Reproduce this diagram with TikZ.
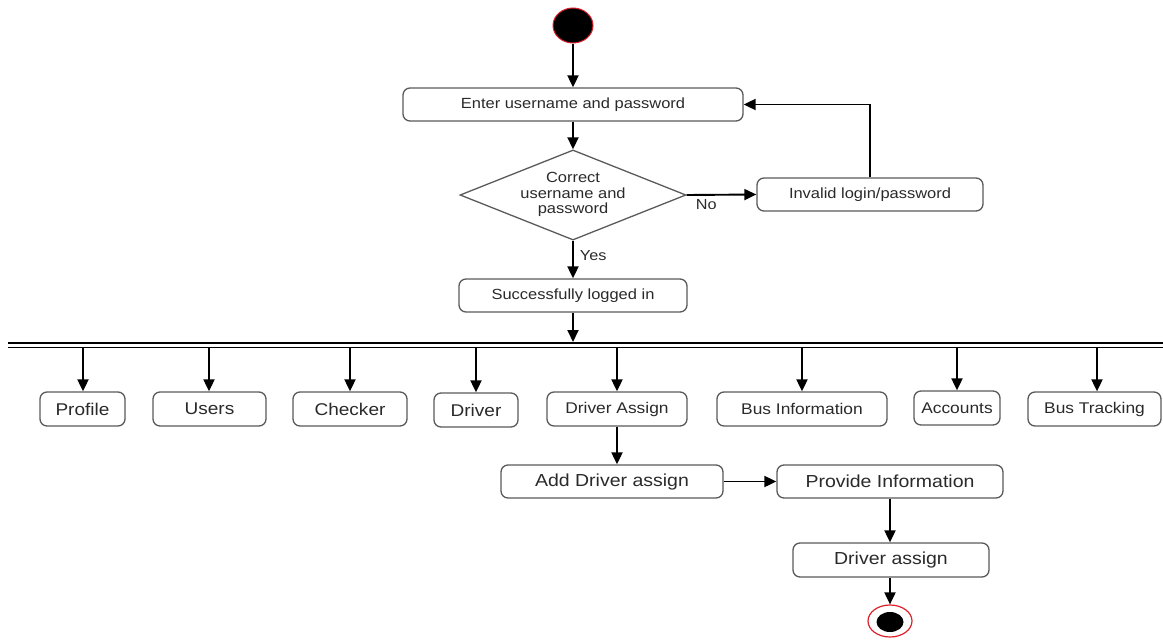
\documentclass[tikz,border=0pt]{standalone}
\usepackage{fontspec}
\setmainfont{Liberation Sans}
\usetikzlibrary{shapes.geometric,arrows.meta}
\newcommand{\sx}[1]{\scalebox{1.12}[1]{#1}}
\definecolor{txt}{HTML}{2A2A2A}
\definecolor{bord}{HTML}{5A5A5A}
\definecolor{startred}{HTML}{E0202A}
\tikzset{
  box/.style={draw=bord, line width=1.3pt, rounded corners=7pt, inner sep=0pt, text=txt, fill=white},
  topf/.style={font=\fontsize{14.7}{17}\selectfont},
  rowA/.style={font=\fontsize{17}{20}\selectfont},
  rowB/.style={font=\fontsize{15.5}{18}\selectfont},
  lowf/.style={font=\fontsize{17.4}{20}\selectfont},
  arr/.style={draw=black, line width=1.9pt, -{Triangle[length=12pt,width=11pt]}},
  lbl/.style={text=txt, font=\fontsize{14.5}{17}\selectfont, inner sep=0pt}
}
\begin{document}
\begin{tikzpicture}[x=1pt,y=-1pt]
\useasboundingbox (0,0) rectangle (1163,640);
% start
\node[ellipse, draw=startred, fill=black, line width=1pt, minimum width=40pt, minimum height=35pt, inner sep=0pt] (start) at (573,25.5) {};
% top boxes
\node[box, topf, minimum width=340pt, minimum height=33pt] (enter) at (573,104.5) {\sx{Enter username and password}};
\node[diamond, draw=bord, line width=1.3pt, text=txt, topf, minimum width=226pt, minimum height=88pt, inner sep=0pt, aspect=2.5] (dia) at (573,195)
  {\sx{\begin{tabular}{@{}c@{}}Correct\\[-1.5pt]username and\\[-1.5pt]password\end{tabular}}};
\node[box, topf, minimum width=226pt, minimum height=33pt] (invalid) at (870,194.5) {\sx{Invalid login/password}};
\node[box, topf, minimum width=228pt, minimum height=33pt] (success) at (573,295.5) {\sx{Successfully logged in}};
% fork bar
\coordinate (barL) at (8,345);
\coordinate (barR) at (1163,345);
\draw[line width=1.8pt] (8,343) -- (1163,343);
\draw[line width=1.8pt] (8,347.5) -- (1163,347.5);
% row boxes
\node[box, rowA, minimum width=85pt, minimum height=34pt] (profile) at (82.5,409) {\sx{Profile}};
\node[box, rowA, minimum width=113pt, minimum height=34pt] (users) at (209.5,409) {\sx{Users}};
\node[box, rowA, minimum width=114pt, minimum height=34pt] (checker) at (350,409) {\sx{Checker}};
\node[box, rowA, minimum width=84pt, minimum height=34pt] (driver) at (476,410) {\sx{Driver}};
\node[box, rowB, minimum width=140pt, minimum height=34pt] (dassignU) at (617,409) {\sx{Driver Assign}};
\node[box, rowB, minimum width=170pt, minimum height=34pt] (businfo) at (802,409) {\sx{Bus Information}};
\node[box, rowB, minimum width=86pt, minimum height=34pt] (accounts) at (957,408) {\sx{Accounts}};
\node[box, rowB, minimum width=133pt, minimum height=34pt] (bustrack) at (1094.5,409) {\sx{Bus Tracking}};
% lower boxes
\node[box, lowf, minimum width=222pt, minimum height=33pt] (add) at (612,481.5) {\sx{Add Driver assign}};
\node[box, lowf, minimum width=226pt, minimum height=33pt] (provide) at (890,481.5) {\sx{Provide Information}};
\node[box, lowf, minimum width=196pt, minimum height=34pt] (dassign) at (891,560) {\sx{Driver assign}};
% end
\node[ellipse, draw=startred, fill=white, line width=1.2pt, minimum width=44pt, minimum height=32pt, inner sep=0pt] (end) at (890,621) {};
\node[ellipse, fill=black, minimum width=27pt, minimum height=20pt, inner sep=0pt] (endin) at (890,622) {};
% connectors
\draw[arr] (start) -- (enter);
\draw[arr] (enter) -- (dia);
\draw[arr] (dia.east) -- (invalid.west) node[lbl, pos=0.28, below=4pt] {\sx{No}};
\draw[arr] (invalid.north) |- (enter.east);
\draw[arr] (dia.south) -- (success.north) node[lbl, pos=0.4, right=6pt] {\sx{Yes}};
\draw[arr] (success.south) -- (success.south |- 0,342);
\foreach \n/\xx in {profile/83,users/209,checker/350,driver/476,dassignU/617,businfo/802,accounts/957,bustrack/1097}{
  \draw[arr] (\xx,348) -- (\xx,0 |- \n.north);
}
\draw[arr] (dassignU.south) -- (dassignU.south |- add.north);
\draw[arr] (add.east) -- (provide.west);
\draw[arr] (provide.south -| 890,0) -- (890,0 |- dassign.north);
\draw[arr] (dassign.south -| 890,0) -- (end.north);
\end{tikzpicture}
\end{document}
